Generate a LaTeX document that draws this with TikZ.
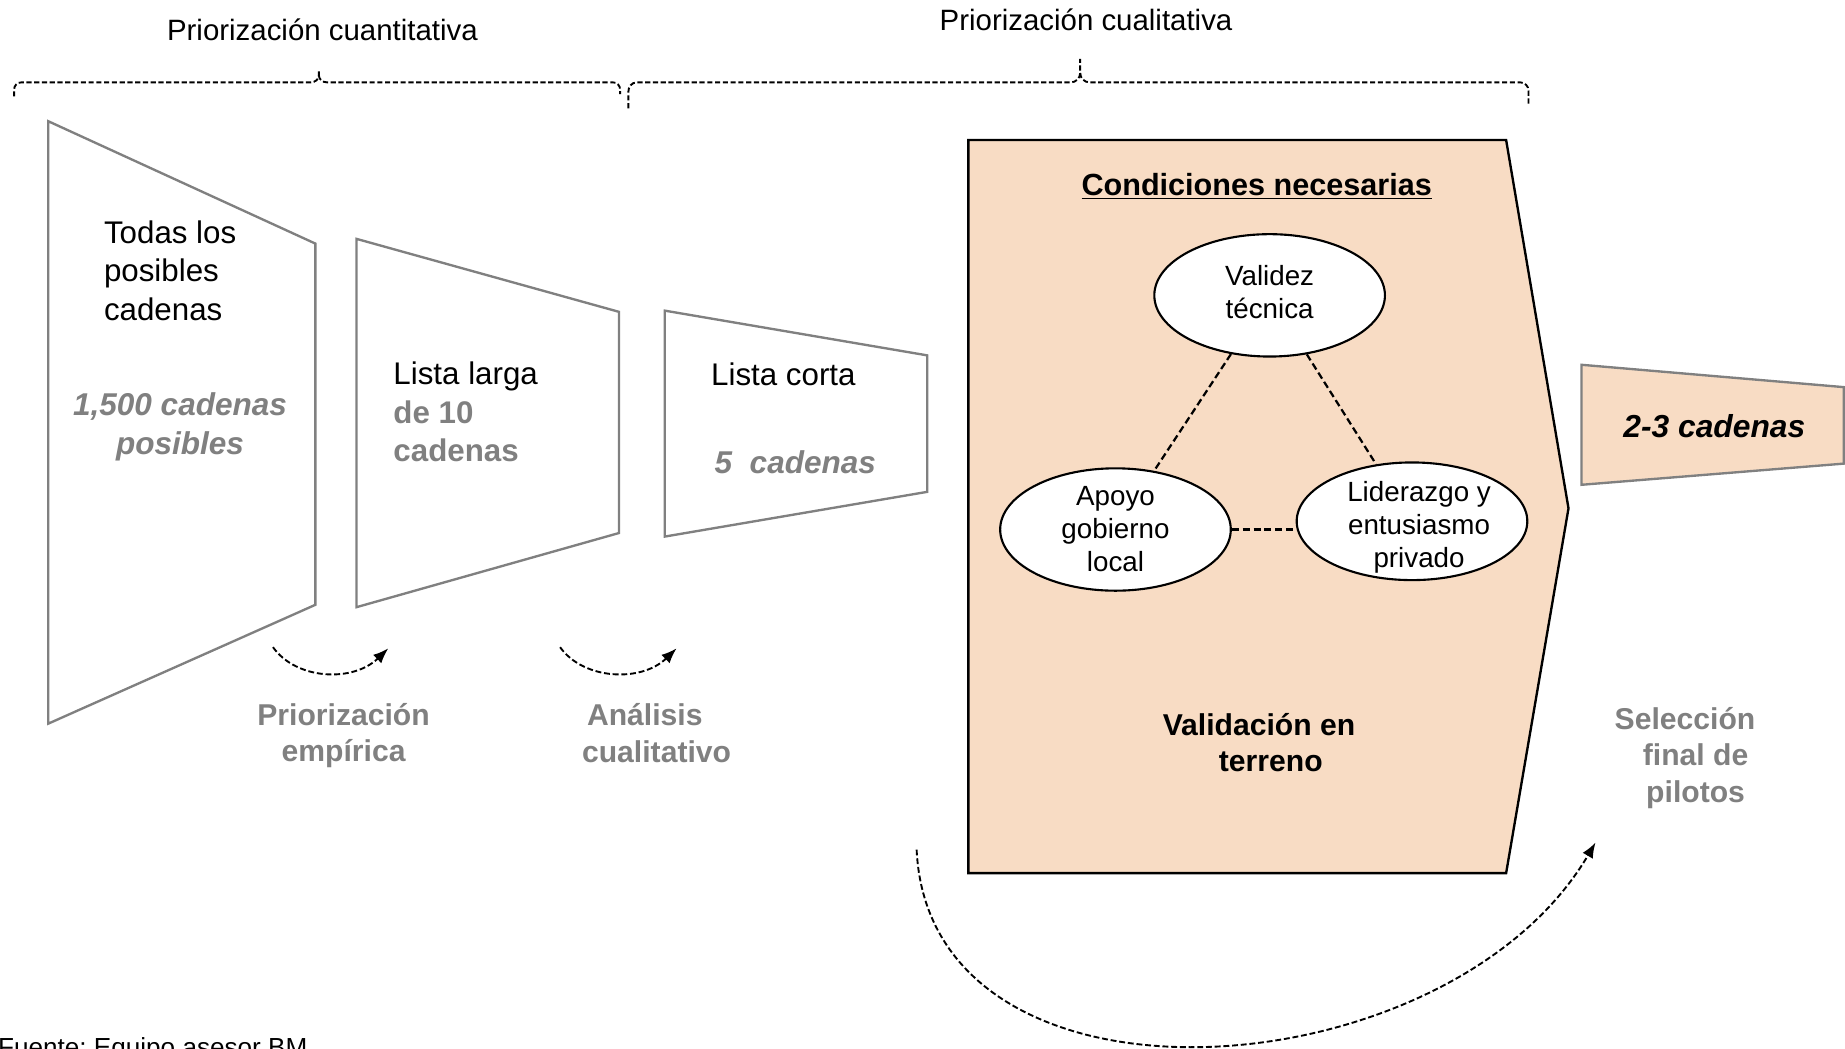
\documentclass[tikz,border=0pt]{standalone}
\usepackage{fontspec}
\setmainfont{Liberation Sans}
\usetikzlibrary{shapes.geometric,arrows.meta}
\definecolor{tgray}{RGB}{128,128,128}
\definecolor{peach}{RGB}{248,220,196}
\frenchspacing
\tikzset{
  brk/.style={draw=black, line width=0.8pt, dash pattern=on 2.2pt off 1.1pt},
  funnel/.style={draw=tgray, line width=1pt, fill=white, line join=miter},
  bigbox/.style={draw=black, line width=1pt, fill=peach, line join=miter},
  smallbox/.style={draw=tgray, line width=1pt, fill=peach, line join=miter},
  cond/.style={ellipse, draw=black, line width=0.9pt, fill=white, minimum width=98pt,
    minimum height=52pt, inner sep=0pt},
  condtext/.style={inner sep=0pt, align=center, font=\fontsize{11.8}{14}\selectfont},
  link/.style={draw=black, line width=0.95pt, dash pattern=on 3pt off 1.6pt},
  flow/.style={draw=black, line width=0.8pt, dash pattern=on 2.5pt off 1.2pt,
    -{Latex[length=6.5pt,width=5pt]}},
  hdr/.style={inner sep=0pt, font=\fontsize{12.5}{15}\selectfont},
  plain/.style={inner sep=0pt, align=left, font=\fontsize{13.3}{16.5}\selectfont},
  gbi/.style={inner sep=0pt, text=tgray, font=\bfseries\itshape\fontsize{13.4}{16.5}\selectfont},
  gb/.style={inner sep=0pt, align=center, text=tgray, font=\bfseries\fontsize{12.8}{15.5}\selectfont},
}
\begin{document}
\begin{tikzpicture}[x=0.5pt,y=-0.5pt]
\useasboundingbox (0,0) rectangle (1568,891);

% brackets
\draw[brk] (12,82) -- (12,76) to[out=90,in=180] (18,70) -- (264,70) to[out=0,in=-90] (271,64) -- (271,60);
\draw[brk] (271,64) to[out=-90,in=180] (278,70) -- (521,70) to[out=0,in=90] (527,76) -- (527,80);
\draw[brk] (534,92) -- (534,78) to[out=90,in=180] (541,70) -- (910,70) to[out=0,in=-90] (918,62) -- (918,50);
\draw[brk] (918,62) to[out=-90,in=180] (926,70) -- (1292,70) to[out=0,in=90] (1299,77) -- (1299,89);
\node[hdr] (hq) at (274,25) {Priorización cuantitativa};
\node[hdr] (hc) at (923,17) {Priorización cualitativa};

% funnels
\draw[funnel] (41,103) -- (268,207) -- (268,514) -- (41,615) -- cycle;
\draw[funnel] (303,203) -- (526,265) -- (526,453) -- (303,516) -- cycle;
\draw[funnel] (565,264) -- (788,302) -- (788,418) -- (565,456) -- cycle;
\draw[bigbox] (823,119) -- (1280,119) -- (1333,432) -- (1280,742) -- (823,742) -- cycle;
\draw[smallbox] (1344,310) -- (1567,329) -- (1567,394) -- (1344,412) -- cycle;

% funnel texts
\node[plain, anchor=west] (t1) at (88,230) {Todas los\\posibles\\cadenas};
\node[gbi, align=center] (n1) at (153,363) {1,500 cadenas\\posibles};
\node[plain, anchor=west] (t2) at (334,350) {Lista larga\\\textcolor{tgray}{\bfseries de 10}\\\textcolor{tgray}{\bfseries cadenas}};
\node[plain, anchor=west] (t3) at (604,318) {Lista corta};
\node[gbi, anchor=west] (n3) at (607,393) {5\ \ cadenas};
\node[inner sep=0pt, font=\bfseries\itshape\fontsize{13.5}{16}\selectfont] (n4) at (1457,362) {2-3 cadenas};

% conditions
\node[inner sep=0pt, anchor=base, font=\bfseries\fontsize{13}{15.6}\selectfont] (title) at (1068,166) {\underline{Condiciones necesarias}};
\node[cond] (val) at (1079,251) {};
\node[cond] (apo) at (948,450) {};
\node[cond, minimum height=50pt] (lid) at (1200,443) {};
\node[condtext] (valt) at (1079,248) {Validez\\técnica};
\node[condtext] (apot) at (948,450) {Apoyo\\gobierno\\local};
\node[condtext] (lidt) at (1206,448) {Liderazgo y\\entusiasmo\\privado};
\draw[link] (val) -- (apo);
\draw[link] (val) -- (lid);
\draw[link] (apo.east) -- (apo.east -| lid.west);
\node[inner sep=0pt, align=center, font=\bfseries\fontsize{12.8}{15.5}\selectfont] (vt) at (1080,631) {Validación en\hspace{10pt}\mbox{}\\terreno};

% step labels
\node[gb] (s1) at (292,625) {Priorización\\empírica};
\node[gb] (s2) at (558,623) {Análisis\hspace{10pt}\mbox{}\\cualitativo};
\node[gb] (s3) at (1441,644) {Selección\hspace{9pt}\mbox{}\\final de\\pilotos};

% arrows
\coordinate (a1s) at (232,550); \coordinate (a1e) at (330,551);
\coordinate (a2s) at (476,550); \coordinate (a2e) at (575,551);
\coordinate (a3s) at (779,722); \coordinate (a3e) at (1356,716);
\draw[flow] (a1s) .. controls (252,578) and (300,580) .. (a1e);
\draw[flow] (a2s) .. controls (496,578) and (545,580) .. (a2e);
\draw[flow] (a3s) .. controls (790,960) and (1230,930) .. (a3e);

\node[inner sep=0pt, anchor=base west, font=\fontsize{11.1}{13}\selectfont] (src) at (-2,898) {Fuente: Equipo asesor BM};
\end{tikzpicture}
\end{document}
